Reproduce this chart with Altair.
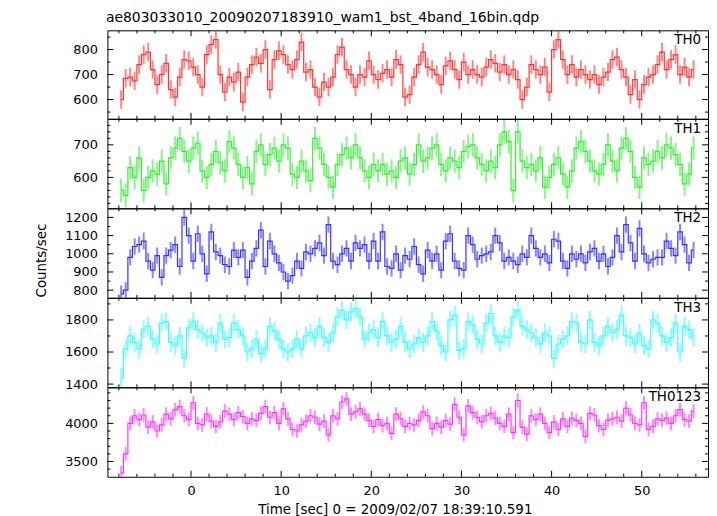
import altair as alt
import pandas as pd

title_text = "ae803033010_20090207183910_wam1_bst_4band_16bin.qdp"
x_title = "Time [sec] 0 = 2009/02/07 18:39:10.591"
y_title = "Counts/sec"
bands = ["TH0", "TH1", "TH2", "TH3", "TH0123"]
colors = ["#ff3333", "#33ee33", "#3333ff", "#33ffff", "#ff33ff"]

first_bin_center = -7.75
bin_width = 0.5

th0 = [600, 685, 690, 675, 740, 780, 790, 720, 660, 700, 745, 640, 610, 690, 760, 755,
       730, 700, 650, 780, 820, 840, 700, 630, 690, 670, 710, 590, 690, 740, 770, 745,
       800, 640, 760, 795, 780, 740, 720, 760, 830, 710, 720, 650, 610, 670, 650, 690,
       780, 810, 720, 700, 650, 700, 690, 755, 700, 680, 705, 720, 690, 760, 740, 610,
       620, 690, 740, 790, 730, 720, 700, 660, 735, 755, 720, 680, 750, 700, 720, 700,
       690, 730, 760, 745, 710, 740, 700, 720, 680, 600, 650, 740, 720, 700, 730, 630,
       800, 840, 760, 700, 740, 690, 720, 700, 680, 700, 660, 690, 710, 760, 770, 720,
       690, 620, 680, 600, 660, 690, 700, 740, 790, 720, 760, 780, 700, 730, 690, 720]
th1 = [560, 545, 630, 600, 660, 560, 600, 620, 610, 650, 580, 660, 690, 720, 680, 650,
       690, 705, 620, 600, 640, 680, 645, 620, 710, 690, 640, 600, 630, 580, 680, 700,
       640, 670, 690, 650, 700, 690, 610, 600, 650, 620, 590, 720, 690, 640, 600, 570,
       640, 670, 690, 660, 700, 660, 620, 600, 640, 620, 640, 610, 620, 600, 650, 660,
       610, 640, 700, 650, 660, 690, 700, 640, 620, 660, 650, 630, 680, 695, 700, 660,
       640, 620, 650, 630, 700, 740, 710, 560, 740, 650, 630, 640, 620, 660, 570, 600,
       640, 660, 610, 570, 620, 690, 710, 680, 650, 620, 610, 640, 700, 650, 620, 690,
       720, 680, 600, 570, 660, 640, 650, 680, 660, 700, 690, 670, 640, 580, 610, 690]
th2 = [780, 800, 980, 1040, 1050, 1070, 960, 910, 990, 870, 990, 1020, 1050, 930, 1200, 1100,
       960, 1110, 1000, 890, 1120, 1010, 990, 940, 930, 1020, 980, 1020, 870, 960, 1030, 1130,
       930, 1070, 1000, 950, 900, 850, 880, 960, 920, 1010, 1000, 1030, 1060, 990, 1160, 960,
       940, 1000, 1030, 960, 1060, 1030, 1050, 960, 1070, 960, 1120, 930, 920, 1000, 910, 990,
       970, 1040, 940, 890, 1020, 960, 1000, 910, 1070, 1110, 960, 920, 910, 1100, 1050, 970,
       990, 1000, 1010, 1100, 1060, 960, 980, 960, 940, 1000, 980, 1100, 1030, 980, 1000, 950,
       1080, 1070, 960, 920, 1000, 970, 1000, 950, 1010, 1030, 960, 1000, 930, 980, 1100, 1010,
       1160, 1060, 960, 1140, 1000, 950, 970, 980, 980, 1070, 1030, 990, 1120, 1050, 950, 1020]
th3 = [1440, 1620, 1700, 1660, 1620, 1740, 1760, 1680, 1650, 1780, 1790, 1660, 1640, 1700, 1560, 1750,
       1790, 1740, 1720, 1690, 1700, 1660, 1780, 1680, 1690, 1780, 1740, 1700, 1600, 1620, 1680, 1590,
       1620, 1760, 1730, 1680, 1620, 1600, 1620, 1680, 1620, 1700, 1720, 1690, 1760, 1690, 1660, 1720,
       1820, 1860, 1800, 1850, 1870, 1820, 1680, 1720, 1740, 1690, 1790, 1700, 1660, 1680, 1760, 1660,
       1620, 1650, 1690, 1660, 1700, 1790, 1730, 1640, 1600, 1800, 1830, 1610, 1620, 1790, 1770, 1680,
       1650, 1780, 1840, 1700, 1660, 1700, 1690, 1820, 1860, 1760, 1740, 1720, 1690, 1650, 1720, 1700,
       1560, 1650, 1680, 1700, 1790, 1780, 1660, 1650, 1800, 1660, 1640, 1700, 1760, 1720, 1740, 1830,
       1700, 1690, 1650, 1720, 1640, 1620, 1800, 1780, 1700, 1660, 1690, 1780, 1600, 1760, 1740, 1690]
th0123 = [3350, 3600, 4000, 4100, 4050, 4110, 3950, 4020, 3900, 3980, 4120, 4060, 4180, 4220, 4100, 4050,
          4270, 4000, 3980, 4120, 4030, 3960, 4020, 4160, 4120, 4050, 4140, 4090, 4000, 4060, 4040, 4130,
          4220, 4080, 4140, 4000, 4190, 4060, 3920, 3900, 3980, 4030, 4100, 4080, 3990, 4030, 3850, 4100,
          4060, 4280, 4320, 4120, 4150, 4190, 4120, 4040, 3960, 4050, 3970, 4000, 3870, 4120, 4060, 3960,
          4000, 3980, 4040, 4150, 4100, 3930, 4000, 3950, 4040, 3990, 4250, 4080, 3850, 4230, 4140, 4080,
          4020, 4100, 4130, 4070, 4000, 3960, 4120, 3880, 4300, 3950, 3860, 4100, 4050, 4120, 4000, 3880,
          4020, 3920, 4060, 3960, 4070, 4040, 4000, 3830, 4130, 4110, 3970, 3920, 4040, 4060, 4080, 4030,
          4200, 4110, 4000, 3980, 4270, 3920, 3960, 4060, 4040, 4070, 4000, 4100, 4180, 4050, 4030, 4160]
rates = [th0, th1, th2, th3, th0123]
errors = [37, 36, 45, 58, 90]

x_domain = [-9.27, 57.35]
x_major = [0, 10, 20, 30, 40, 50]
x_minor = [-8, -6, -4, -2, 2, 4, 6, 8, 12, 14, 16, 18, 22, 24, 26, 28, 32, 34, 36, 38,
           42, 44, 46, 48, 52, 54, 56]
y_domains = [[523, 877], [505, 780], [758, 1250], [1380, 1938], [3300, 4473]]
y_major = [[600, 700, 800], [600, 700], [800, 900, 1000, 1100, 1200], [1400, 1600, 1800], [3500, 4000]]
y_minor = [[550, 650, 750, 850],
           [520, 540, 560, 580, 620, 640, 660, 680, 720, 740, 760],
           [850, 950, 1050, 1150],
           [1500, 1700, 1900],
           [3400, 3600, 3700, 3800, 3900, 4100, 4200, 4300, 4400]]

W = 604
heights = [89, 90, 90, 90, 90]
FONT = "DejaVu Sans"
MAJ, MIN = 6, 3

times = [first_bin_center + bin_width * i for i in range(len(th0))]


def panel(k):
    H = heights[k]
    last = k == len(bands) - 1
    c = colors[k]
    df = pd.DataFrame({"t": times, "rate": rates[k]})
    df["lo"] = df["rate"] - errors[k]
    df["hi"] = df["rate"] + errors[k]
    xs = alt.Scale(domain=x_domain, nice=False, zero=False)
    ys = alt.Scale(domain=y_domains[k], nice=False, zero=False)

    if last:
        xaxis = alt.Axis(values=x_major, format="d", ticks=False, tickSize=0, domain=False, grid=False,
                         labelFont=FONT, labelFontSize=13, labelColor="black", labelPadding=8,
                         title=x_title, titleFont=FONT, titleFontSize=13.5, titleFontWeight="normal",
                         titleColor="black", titleX=289, titleY=33, titleAlign="center",
                         titleBaseline="middle")
    else:
        xaxis = None
    yaxis_kw = dict(values=y_major[k], format="d", ticks=False, tickSize=0, domain=False, grid=False,
                    labelFont=FONT, labelFontSize=13, labelColor="black", labelPadding=10)
    if k == 2:
        yaxis = alt.Axis(title=y_title, titleFont=FONT, titleFontSize=13.5, titleFontWeight="normal",
                         titleColor="black", titleX=-66, titleY=52, titleAngle=270,
                         titleAlign="center", titleBaseline="middle", **yaxis_kw)
    else:
        yaxis = alt.Axis(title=None, **yaxis_kw)

    def X(f):
        return alt.X(f, scale=xs, axis=xaxis)

    def Y(f):
        return alt.Y(f, scale=ys, axis=yaxis)

    base = alt.Chart(df)
    err = base.mark_rule(color=c, opacity=0.6, strokeWidth=2, clip=True).encode(
        x=X("t:Q"), y=Y("lo:Q"), y2="hi:Q")
    line = base.mark_line(interpolate="step", color=c, strokeWidth=1.2, clip=True).encode(
        x=X("t:Q"), y=Y("rate:Q"))

    xmaj = alt.Chart(pd.DataFrame({"t": x_major}))
    xmin = alt.Chart(pd.DataFrame({"t": x_minor}))
    ymaj = alt.Chart(pd.DataFrame({"rate": y_major[k]}))
    ymin = alt.Chart(pd.DataFrame({"rate": y_minor[k]}))
    tick_layers = []
    for src, L in ((xmaj, MAJ), (xmin, MIN)):
        tick_layers.append(src.mark_rule(color="black", strokeWidth=1).encode(
            x=X("t:Q"), y=alt.value(0), y2=alt.value(L)))
        tick_layers.append(src.mark_rule(color="black", strokeWidth=1).encode(
            x=X("t:Q"), y=alt.value(H), y2=alt.value(H - L)))
    for src, L in ((ymaj, MAJ), (ymin, MIN)):
        tick_layers.append(src.mark_rule(color="black", strokeWidth=1).encode(
            y=Y("rate:Q"), x=alt.value(0), x2=alt.value(L)))
        tick_layers.append(src.mark_rule(color="black", strokeWidth=1).encode(
            y=Y("rate:Q"), x=alt.value(W), x2=alt.value(W - L)))

    label = alt.Chart(pd.DataFrame({"name": [bands[k]]})).mark_text(
        align="right", baseline="top", font=FONT, fontSize=13.5, color="black").encode(
        x=alt.value(W - 7), y=alt.value(3), text="name:N")

    return alt.layer(err, line, *tick_layers, label).properties(width=W, height=H)


chart = alt.vconcat(*[panel(k) for k in range(len(bands))], spacing=0, bounds="flush").properties(
    title=alt.TitleParams(title_text, anchor="start", font=FONT, fontSize=14,
                          fontWeight="normal", color="black", baseline="bottom", offset=-10, dx=72),
    padding={"left": 26, "top": 2, "right": 0, "bottom": 0},
    background="white",
).configure_view(stroke="black", strokeWidth=1)

chart.save("out.html", embed_options={"renderer": "svg", "actions": False})
